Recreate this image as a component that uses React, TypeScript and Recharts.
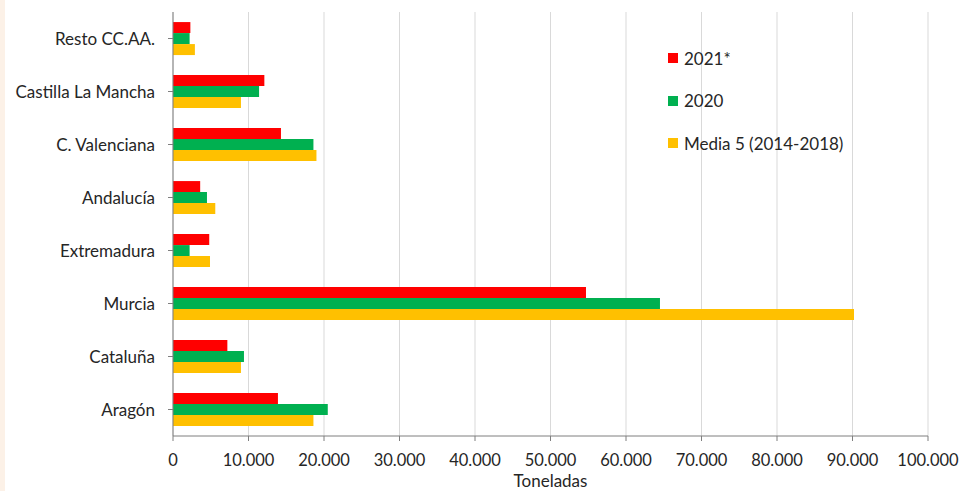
import { Bar, BarChart, CartesianGrid, XAxis, YAxis } from "recharts";

const regions = [
  "Resto CC.AA.",
  "Castilla La Mancha",
  "C. Valenciana",
  "Andalucía",
  "Extremadura",
  "Murcia",
  "Cataluña",
  "Aragón",
];
const y2021 = [2300, 12100, 14300, 3600, 4800, 54700, 7200, 13900];
const y2020 = [2200, 11400, 18600, 4500, 2200, 64500, 9400, 20500];
const media5 = [2900, 9000, 19000, 5600, 4900, 90200, 9000, 18600];
const xTicks = [0, 10000, 20000, 30000, 40000, 50000, 60000, 70000, 80000, 90000, 100000];

const data = regions.map((name, i) => ({
  name,
  y2021: y2021[i],
  y2020: y2020[i],
  media5: media5[i],
}));

const series = [
  { key: "y2021", label: "2021*", color: "#FF0000" },
  { key: "y2020", label: "2020", color: "#00B050" },
  { key: "media5", label: "Media 5 (2014-2018)", color: "#FFC000" },
];

const font = "Lato, 'Open Sans', sans-serif";
const textColor = "#262626";

const fmt = (v: number) => v.toLocaleString("de-DE");

// legend sits inside the plot, top right
const LegendBox = () => (
  <div style={{ position: "absolute", left: 668, top: 37, fontFamily: font, fontSize: 17, color: textColor }}>
    {series.map((s) => (
      <div key={s.key} style={{ display: "flex", alignItems: "center", height: 42.5 }}>
        <span style={{ width: 10, height: 10, background: s.color, marginRight: 6 }} />
        {s.label}
      </div>
    ))}
  </div>
);

const App = () => {
  return (
    <div style={{ position: "fixed", left: 0, top: 0, width: 959, height: 491, background: "#fff" }}>
      <div style={{ position: "absolute", left: 0, top: 0, width: 5, height: 491, background: "#FCF1E7" }} />
      <BarChart
        width={959}
        height={491}
        data={data}
        layout="vertical"
        margin={{ top: 12, right: 31, left: 0, bottom: 0 }}
        barCategoryGap="19%"
        barGap={0}
      >
        <CartesianGrid horizontal={false} stroke="#D9D9D9" />
        <XAxis
          type="number"
          domain={[0, 100000]}
          ticks={xTicks}
          tickFormatter={fmt}
          interval={0}
          height={55}
          stroke="#7F7F7F"
          tickSize={5}
          tickMargin={13}
          tick={{ fill: textColor, fontSize: 16.5, fontFamily: font }}
          label={{ value: "Toneladas", position: "insideBottom", offset: 4, fill: textColor, fontSize: 17, fontFamily: font }}
        />
        <YAxis
          type="category"
          dataKey="name"
          width={173}
          stroke="#7F7F7F"
          tickSize={5}
          tickMargin={13}
          tick={{ fill: textColor, fontSize: 17, fontFamily: font }}
        />
        {series.map((s) => (
          <Bar key={s.key} dataKey={s.key} name={s.label} fill={s.color} isAnimationActive={false} />
        ))}
      </BarChart>
      <LegendBox />
    </div>
  );
};

export default App;
